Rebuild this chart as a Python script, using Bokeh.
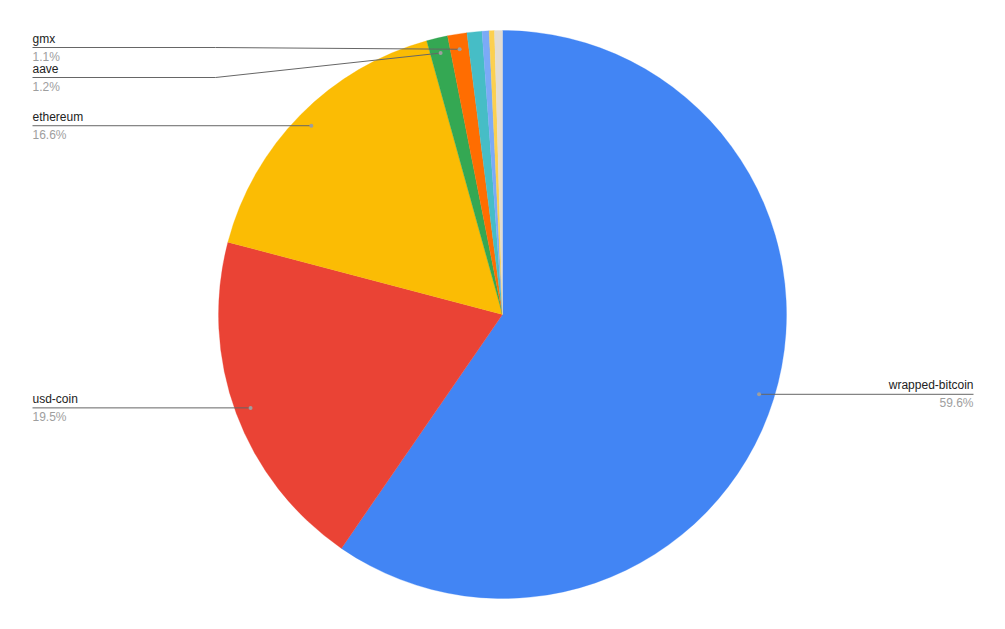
import numpy as np
from bokeh.plotting import figure
from bokeh.models import ColumnDataSource, Range1d
from bokeh.embed import file_html
from bokeh.resources import INLINE
from bokeh.core.properties import value

# ---- data ----
names = ["wrapped-bitcoin", "usd-coin", "ethereum", "aave", "gmx",
         "chainlink", "uniswap", "frax", "dai"]
shares = [59.6, 19.5, 16.6, 1.2, 1.1, 0.85, 0.4, 0.3, 0.45]
colors = ["#4285f4", "#ea4335", "#fbbc04", "#34a853", "#ff6d01",
          "#46bdc6", "#7baaf7", "#fcd04f", "#e2dcd2"]
labeled = ["wrapped-bitcoin", "usd-coin", "ethereum", "aave", "gmx"]
pct_labels = ["59.6%", "19.5%", "16.6%", "1.2%", "1.1%"]

# ---- geometry (pixel layout of the reference) ----
CX, CY, R = 502.0, 314.0, 284.0
W, H = 989, 613

def X(px):
    return (px - CX) / R

def Y(py):
    return (CY - py) / R

vals = np.array(shares, dtype=float)
frac = vals / vals.sum()
cum = np.concatenate([[0.0], np.cumsum(frac)])
start = np.pi / 2 - 2 * np.pi * cum[:-1]
end = np.pi / 2 - 2 * np.pi * cum[1:]
mid = (start + end) / 2

src = ColumnDataSource(dict(name=names, start=start, end=end, color=colors))

p = figure(width=W, height=H, output_backend="svg", toolbar_location=None,
           x_range=Range1d(X(0), X(W)), y_range=Range1d(Y(H), Y(0)),
           min_border=0, outline_line_color=None, background_fill_color="white",
           border_fill_color="white")
p.axis.visible = False
p.grid.visible = False

p.wedge(x=0, y=0, radius=1.0, start_angle="start", end_angle="end",
        direction="clock", fill_color="color", line_color="color",
        line_width=0.3, source=src)

# label layout: (label line y px, text x px, elbow x px, side)
layout = {
    "wrapped-bitcoin": (394, 973, None, "right"),
    "usd-coin": (407, 32, None, "left"),
    "ethereum": (125, 32, None, "left"),
    "aave": (77, 32, 215, "left"),
    "gmx": (47, 32, 215, "left"),
}

dot_r = 0.946
for nm, pct in zip(labeled, pct_labels):
    i = names.index(nm)
    dx, dy = dot_r * np.cos(mid[i]), dot_r * np.sin(mid[i])
    ly, tx, elbow, side = layout[nm]
    if elbow is None:
        xs = [X(tx), dx]
        ys = [dy, dy]
    else:
        xs = [X(tx), X(elbow), dx]
        ys = [Y(ly), Y(ly), dy]
    p.line(xs, ys, line_color="#666666", line_width=1)
    p.scatter([dx], [dy], size=4, fill_color="#9e9e9e", line_color=None)
    lyy = ys[0]
    align = "right" if side == "right" else "left"
    p.text([X(tx)], [lyy + 9 / R], text=[nm], text_font=value("Liberation Sans"),
           text_font_size="12px", text_color="#222222", text_align=align,
           text_baseline="middle")
    p.text([X(tx)], [lyy - 9 / R], text=[pct], text_font=value("Liberation Sans"),
           text_font_size="12px", text_color="#9e9e9e", text_align=align,
           text_baseline="middle")

open("out.html", "w").write(file_html(p, INLINE))
